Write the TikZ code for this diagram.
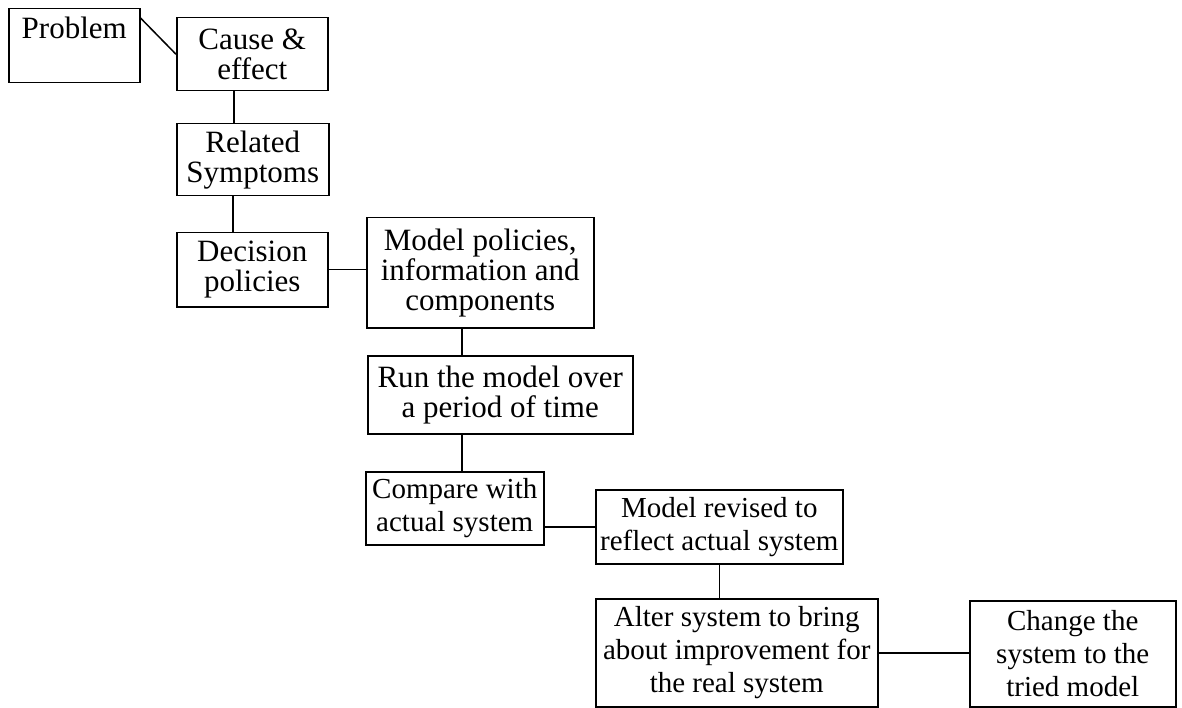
\documentclass[tikz,border=0pt]{standalone}
\usepackage{fontspec}
\setmainfont{Liberation Serif}
\begin{document}
\begin{tikzpicture}[x=1pt,y=-1pt,
  stepbox/.style={draw=black, line width=1.5pt, rectangle, anchor=north west,
    align=center, inner sep=0pt, font=\fontsize{31}{30}\selectfont},
  lowbox/.style={stepbox, font=\fontsize{29}{33}\selectfont},
  link/.style={draw=black, line width=1.5pt}]
\useasboundingbox (0,0) rectangle (1182,708);
\node[stepbox, minimum width=131pt, text height=30pt, text depth=44pt] (problem) at (8,8) {Problem};
\node[stepbox, minimum width=151pt, minimum height=73pt] (cause) at (176,17) {Cause \&\\effect};
\node[stepbox, minimum width=152pt, minimum height=72pt] (related) at (176,123) {Related\\Symptoms};
\node[stepbox, minimum width=151pt, minimum height=74pt] (decision) at (176,232) {Decision\\policies};
\node[stepbox, minimum width=227pt, minimum height=110pt] (modelp) at (366,217) {Model policies,\\information and\\components};
\node[stepbox, minimum width=265pt, minimum height=78pt] (run) at (367,355) {Run the model over\\a period of time};
\node[lowbox, minimum width=178pt, minimum height=73pt] (compare) at (365,471) {Compare with\\actual system};
\node[lowbox, minimum width=247pt, minimum height=74pt] (revised) at (595,489) {Model revised to\\reflect actual system};
\node[lowbox, minimum width=282pt, minimum height=108pt] (alter) at (595,598) {Alter system to bring\\about improvement for\\the real system};
\node[lowbox, minimum width=206pt, minimum height=106pt] (change) at (969,600) {Change the\\system to the\\tried model};
\draw[link] ([yshift=-10pt]problem.north east) -- (cause.west);
\draw[link] ([xshift=58pt]cause.south west) -- ([xshift=58pt]related.north west);
\draw[link] ([xshift=57pt]related.south west) -- ([xshift=57pt]decision.north west);
\draw[link] (decision.east) -- (decision.east -| modelp.west);
\draw[link] ([xshift=96pt]modelp.south west) -- ([xshift=96pt]modelp.south west |- run.north);
\draw[link] ([xshift=95pt]run.south west) -- ([xshift=95pt]run.south west |- compare.north);
\draw[link] (compare.east |- revised.west) -- (revised.west);
\draw[link] (revised.south) -- (revised.south |- alter.north);
\draw[link] (alter.east) -- (alter.east -| change.west);
\end{tikzpicture}
\end{document}
